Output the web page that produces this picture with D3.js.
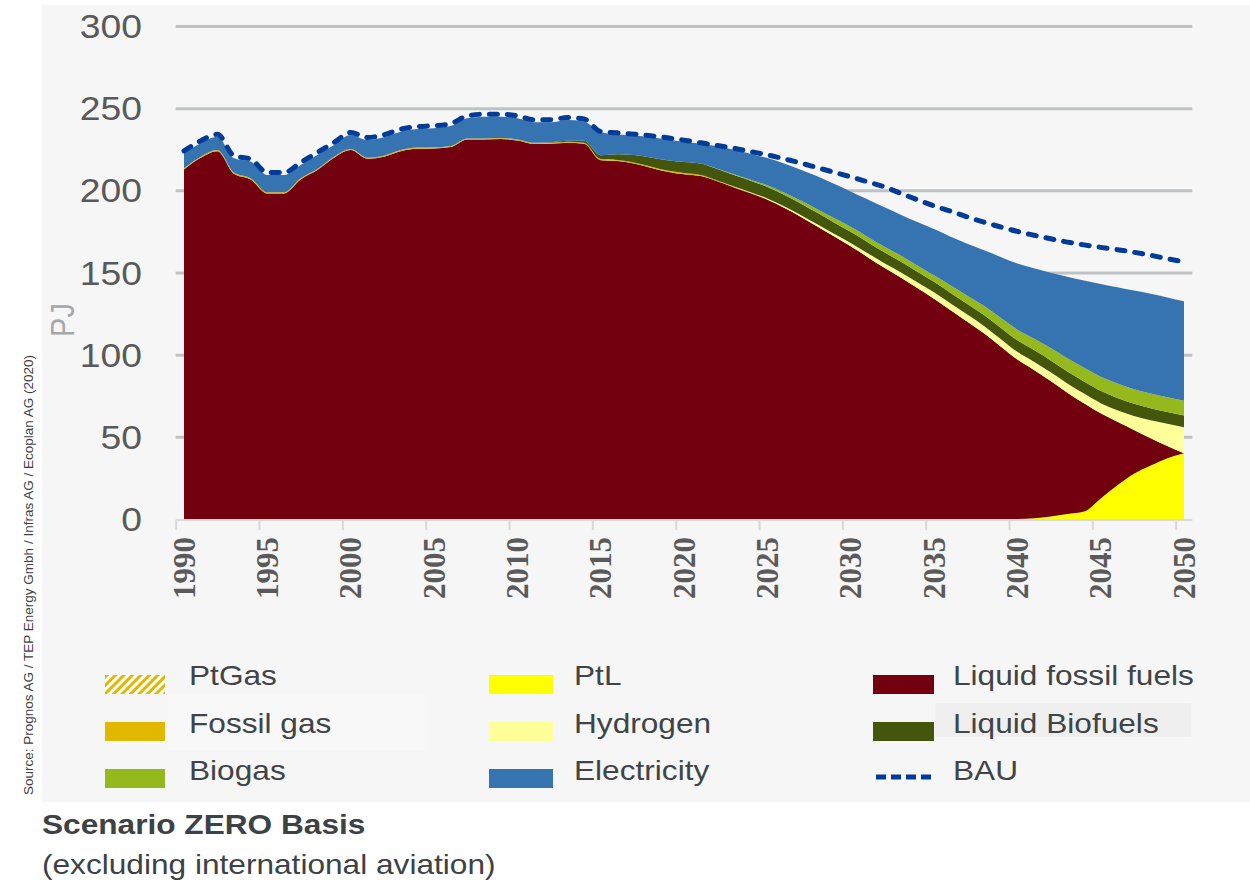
<!DOCTYPE html>
<html>
<head>
<meta charset="utf-8">
<script src="https://cdnjs.cloudflare.com/ajax/libs/d3/7.8.5/d3.min.js"></script>
<style>
body { margin: 0; background: #ffffff; }
svg text { font-family: "Liberation Sans", Arial, sans-serif; }
</style>
</head>
<body>
<script>
// years on the category axis
var years = [1990,1991,1992,1993,1994,1995,1996,1997,1998,1999,
	2000,2001,2002,2003,2004,2005,2006,2007,2008,2009,
	2010,2011,2012,2013,2014,2015,2016,2017,2018,2019,
	2020,2021,2022,2023,2024,2025,2026,2027,2028,2029,
	2030,2031,2032,2033,2034,2035,2036,2037,2038,2039,
	2040,2041,2042,2043,2044,2045,2046,2047,2048,2049,2050];

// PJ per year
var liquidFossil = [212.7,219.8,223.8,210.1,206.6,198.1,198.1,206.6,212.3,219.8,
	224.5,219.2,220.4,223.8,225.3,225.5,226.3,230.9,230.9,231.2,
	230.3,228.3,228.3,228.9,228.3,218.3,217.8,216.3,213.8,211.3,
	209.8,208.7,205.5,201.8,198.2,194.3,189.4,184,178,172,
	166,159.5,153,147,140.5,134,127,120,113,105,
	97,90.2,82.5,73.9,65.9,51.8,38.7,26.7,16.6,7.4,0];

var fossilGas = [0.7,0.7,0.7,0.7,0.7,0.7,0.7,0.7,0.7,0.7,
	0.7,0.7,0.7,0.7,0.7,0.7,0.7,0.7,0.7,0.7,
	0.7,0.7,0.7,0.7,0.7,0.7,0.7,0.7,0.7,0.7,
	0.7,0.6,0.5,0.4,0.3,0.2,0.1,0,0,0,
	0,0,0,0,0,0,0,0,0,0,
	0,0,0,0,0,0,0,0,0,0,0];

var ptl = [0,0,0,0,0,0,0,0,0,0,
	0,0,0,0,0,0,0,0,0,0,
	0,0,0,0,0,0,0,0,0,0,
	0,0,0,0,0,0,0,0,0,0,
	0,0,0,0,0,0,0,0,0,0,
	0,0.5,1.5,3,4.5,12.5,20.5,27.5,32.5,37,40];

var hydrogen = [0,0,0,0,0,0,0,0,0,0,
	0,0,0,0,0,0,0,0,0,0,
	0,0,0,0,0,0,0,0,0,0,
	0,0,0,0.2,0.4,0.6,0.8,1,1.3,1.6,
	2,2.4,2.8,3.2,3.6,4,4.2,4.4,4.5,4.6,
	4.7,5,5.3,5.6,5.9,6.2,7,8.5,11,13.5,15.8];

var liquidBiofuels = [0,0,0,0,0,0,0,0,0,0,
	0,0,0,0,0,0,0,0,0,0,
	0,0,0.3,0.6,1.2,2.4,3.4,4.5,5.5,6.3,
	6.8,7,7,7,7,7,7,7,7,6.9,
	6.8,6.7,6.6,6.5,6.4,6.3,6.4,6.5,6.7,6.8,
	7,7.1,7.2,7.3,7.4,7.5,7.5,7.4,7.3,7.2,7.2];

var ptGas = [0,0,0,0,0,0,0,0,0,0,
	0,0,0,0,0,0,0,0,0,0,
	0,0,0,0,0,0,0,0,0,0,
	0,0,0,0,0,0,0,0,0,0,
	0,0,0,0,0,0,0,0,0,0,
	0,0,0,0,0,0,0,0,0,0,0];

var biogas = [0,0,0,0,0,0,0,0,0,0,
	0,0,0,0,0,0,0,0,0,0,
	0,0,0,0,0,0,0,0,0,0,
	0,0,0.2,0.4,0.6,1,1.4,1.8,2.2,2.6,
	3,3.2,3.4,3.6,3.8,4,4.5,5,5.5,6,
	6.5,7,7.5,8,8.3,8.6,8.8,8.9,9,9,8.9];

var electricity = [9.1,8.1,8.1,8.7,10.2,10.5,10.5,8.1,8.5,7.1,
	8.5,10.7,11.2,11.2,11.3,11.6,12.1,12.2,13.2,12.9,
	12.8,12.4,12.1,12.6,11.7,13.9,12.1,11.8,12.3,12.7,
	12.2,12,13.6,14.9,15.8,16.5,17.6,18.8,20,20.9,
	21.5,22.7,24,24.9,26.4,28.2,29.7,31.6,33.8,37.1,
	40.3,42.8,45.9,49.6,53.1,56.4,58.5,60,60.6,60.7,60.6];

var bau = [224,230.1,234.1,221,219,210.8,210.8,216.9,223,229.1,
	235.2,232.1,233.8,237.2,238.8,239.3,240.6,245.3,246.3,246.3,
	245.3,242.9,242.9,244.3,243.4,235.8,235,234.2,233.2,232,
	230.5,228.9,227.3,225.6,223.6,221.6,219.2,216.6,213.8,211,
	208.2,205.2,202.2,198.2,194.3,190.5,187.3,183.8,180.6,177.7,
	175,172.7,170.5,168.5,166.8,165.3,163.9,162.3,160.5,158.4,156.5];

var yTicks = [0, 50, 100, 150, 200, 250, 300];
var xLabelYears = [1990,1995,2000,2005,2010,2015,2020,2025,2030,2035,2040,2045,2050];

// stacking order, bottom to top
var seriesKeys = ["ptl","fossil","fossilGas","hydrogen","biofuels","ptgas","biogas","electricity"];
var seriesColors = {
	ptl: "#ffff00",
	fossil: "#72000f",
	fossilGas: "#e2b700",
	hydrogen: "#ffff99",
	biofuels: "#44550c",
	ptgas: "url(#hatch)",
	biogas: "#95b91d",
	electricity: "#3574b0"
};

var legendItems = [
	{label: "PtGas", fill: "url(#hatch)"},
	{label: "Fossil gas", fill: "#e2b700"},
	{label: "Biogas", fill: "#95b91d"},
	{label: "PtL", fill: "#ffff00"},
	{label: "Hydrogen", fill: "#ffff99"},
	{label: "Electricity", fill: "#3574b0"},
	{label: "Liquid fossil fuels", fill: "#72000f"},
	{label: "Liquid Biofuels", fill: "#44550c"},
	{label: "BAU", fill: null}
];

var width = 1250, height = 887;
var stretch = 1.13;
var textColor = "#404446";

var rows = years.map(function(yr, i) {
	return {
		year: yr,
		ptl: ptl[i],
		fossil: liquidFossil[i],
		fossilGas: fossilGas[i],
		hydrogen: hydrogen[i],
		biofuels: liquidBiofuels[i],
		ptgas: ptGas[i],
		biogas: biogas[i],
		electricity: electricity[i],
		bau: bau[i]
	};
});

var x = d3.scaleLinear().domain([1990, 2050]).range([184, 1184]);
var y = d3.scaleLinear().domain([0, 300]).range([519, 26]);

var svg = createSVG();
drawBackground();
drawGrid();
drawAreas();
drawBAU();
drawXAxis();
drawYLabels();
drawLegend();
writeTexts();

function createSVG(){
	var s = d3.select("body")
	.append("svg")
	.attr("width", width)
	.attr("height", height);

	var pattern = s.append("defs")
	.append("pattern")
	.attr("id", "hatch")
	.attr("patternUnits", "userSpaceOnUse")
	.attr("width", 6)
	.attr("height", 6)
	.attr("patternTransform", "rotate(45)");
	pattern.append("rect")
	.attr("width", 6)
	.attr("height", 6)
	.attr("fill", "#ffffff");
	pattern.append("rect")
	.attr("width", 3)
	.attr("height", 6)
	.attr("fill", "#e2b700");
	return s;
}

function drawBackground(){
	svg.append("rect")
	.attr("x", 42)
	.attr("y", 5)
	.attr("width", width - 42)
	.attr("height", 797)
	.attr("fill", "#f6f6f6");
}

function drawGrid(){
	var grid = svg.append("g")
	.attr("transform", "translate(" + x(1989.5) + ",0)")
	.call(d3.axisRight(y)
		.tickValues(yTicks.slice(1))
		.tickSize(x(2050.5) - x(1989.5))
		.tickFormat(""));
	grid.select(".domain").remove();
	grid.selectAll("line")
	.attr("stroke", "#bfc2c4")
	.attr("stroke-width", 3);
}

function drawAreas(){
	var stacked = d3.stack().keys(seriesKeys)(rows);
	var area = d3.area()
	.curve(d3.curveMonotoneX)
	.x(function(d) { return x(d.data.year); })
	.y0(function(d) { return y(d[0]); })
	.y1(function(d) { return y(d[1]); });

	svg.append("g")
	.selectAll("path")
	.data(stacked)
	.enter()
	.append("path")
	.attr("d", area)
	.attr("fill", function(d) { return seriesColors[d.key]; });
}

function drawBAU(){
	var line = d3.line()
	.curve(d3.curveMonotoneX)
	.x(function(d) { return x(d.year); })
	.y(function(d) { return y(d.bau); });

	svg.append("path")
	.datum(rows)
	.attr("d", line)
	.attr("fill", "none")
	.attr("stroke", "#003b97")
	.attr("stroke-width", 5)
	.attr("stroke-linecap", "round")
	.attr("stroke-dasharray", "8,10");
}

function drawXAxis(){
	svg.append("line")
	.attr("x1", x(1989.5))
	.attr("x2", x(2050.5))
	.attr("y1", y(0) + 1)
	.attr("y2", y(0) + 1)
	.attr("stroke", "#d9d9d9")
	.attr("stroke-width", 2);

	var ticks = svg.append("g")
	.attr("transform", "translate(0," + (y(0) + 1) + ")")
	.call(d3.axisBottom(x)
		.tickValues(xLabelYears.map(function(d) { return d - 0.5; }))
		.tickSize(10)
		.tickFormat(""));
	ticks.select(".domain").remove();
	ticks.selectAll("line")
	.attr("stroke", "#d9d9d9")
	.attr("stroke-width", 2);

	svg.append("g")
	.selectAll("text")
	.data(xLabelYears)
	.enter()
	.append("text")
	.attr("transform", function(d) {
		return "translate(" + (x(d) + 10.5) + ",537) rotate(-90)";
	})
	.attr("text-anchor", "end")
	.style("font-family", "'Liberation Serif', serif")
	.attr("font-weight", "bold")
	.attr("font-size", 31)
	.attr("fill", "#5a5a5a")
	.text(function(d) { return d; });
}

function drawYLabels(){
	svg.append("g")
	.selectAll("text")
	.data(yTicks)
	.enter()
	.append("text")
	.attr("transform", function(d) {
		return "translate(142," + (y(d) + 12) + ") scale(" + stretch + ",1)";
	})
	.attr("text-anchor", "end")
	.attr("font-size", 33)
	.attr("fill", "#595959")
	.text(function(d) { return d; });

	svg.append("text")
	.attr("transform", "translate(74,320) rotate(-90) scale(1," + stretch + ")")
	.attr("text-anchor", "middle")
	.attr("font-size", 29)
	.attr("fill", "#a3a7a9")
	.text("PJ");
}

function drawLegend(){
	var colX = [105, 489, 873];
	var swatchW = [60, 64, 61];
	var labelDX = [84, 85, 80];
	var rowY = [675, 722, 769];

	// faint boxes that sit behind two of the labels
	svg.append("rect")
	.attr("x", 168).attr("y", 693)
	.attr("width", 257).attr("height", 58)
	.attr("fill", "#f8f8f8");
	svg.append("rect")
	.attr("x", 935).attr("y", 703)
	.attr("width", 256).attr("height", 34)
	.attr("fill", "#efefef");

	var items = svg.append("g")
	.selectAll("g")
	.data(legendItems)
	.enter()
	.append("g")
	.attr("transform", function(d, i) {
		return "translate(" + colX[Math.floor(i / 3)] + "," + rowY[i % 3] + ")";
	});

	items.filter(function(d) { return d.fill; })
	.append("rect")
	.attr("width", function(d) { return swatchW[Math.floor(legendItems.indexOf(d) / 3)]; })
	.attr("height", 19)
	.attr("fill", function(d) { return d.fill; });

	items.filter(function(d) { return !d.fill; })
	.append("line")
	.attr("x1", 3).attr("x2", 61)
	.attr("y1", 8).attr("y2", 8)
	.attr("stroke", "#003b97")
	.attr("stroke-width", 5)
	.attr("stroke-dasharray", "10,5");

	items.append("text")
	.attr("transform", function(d) {
		var i = legendItems.indexOf(d);
		var dy = (i % 3 == 0) ? 10 : 11;
		return "translate(" + labelDX[Math.floor(i / 3)] + "," + dy + ") scale(" + stretch + ",1)";
	})
	.attr("font-size", 28)
	.attr("fill", textColor)
	.text(function(d) { return d.label; });
}

function writeTexts(){
	svg.append("text")
	.attr("transform", "translate(33,795) rotate(-90)")
	.attr("font-size", 13.5)
	.attr("fill", "#404040")
	.text("Source: Prognos AG / TEP Energy Gmbh / Infras AG / Ecoplan AG (2020)");

	svg.append("text")
	.attr("transform", "translate(42,834) scale(" + stretch + ",1)")
	.attr("font-size", 28)
	.attr("font-weight", "bold")
	.attr("fill", "#3c4245")
	.text("Scenario ZERO Basis");

	svg.append("text")
	.attr("transform", "translate(42,874) scale(" + stretch + ",1)")
	.attr("font-size", 28)
	.attr("fill", "#3c4245")
	.text("(excluding international aviation)");
}
</script>
</body>
</html>
